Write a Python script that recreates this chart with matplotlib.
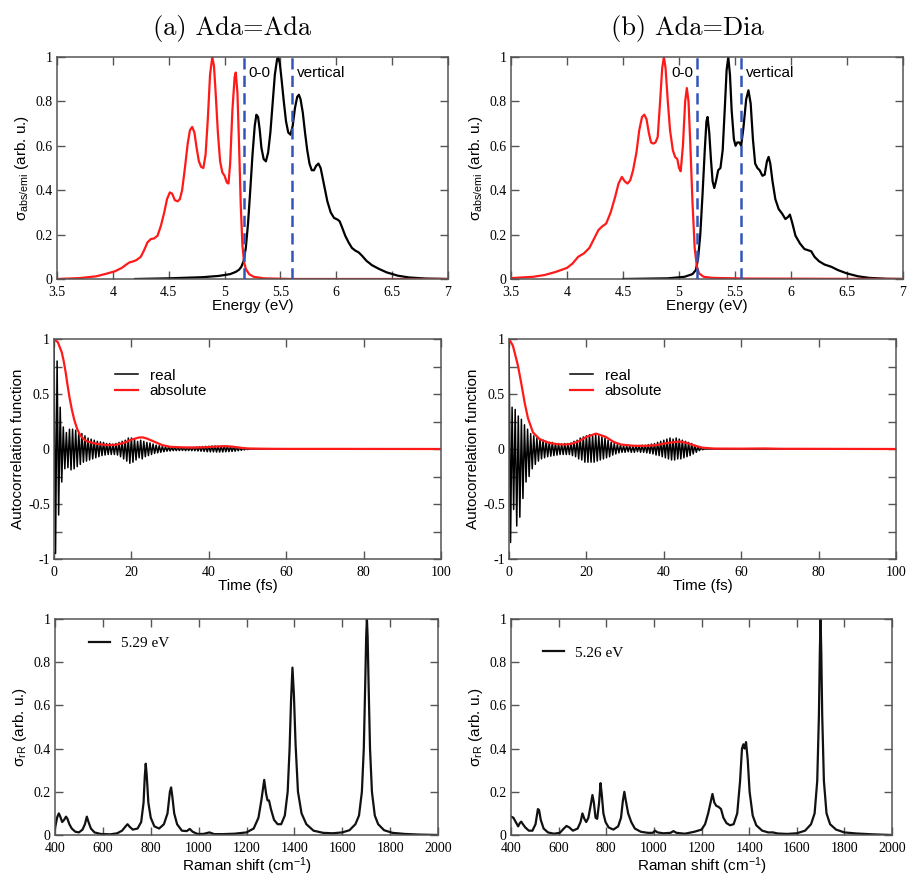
import numpy as np
import matplotlib
matplotlib.use("Agg")
import matplotlib.pyplot as plt
from matplotlib.ticker import FuncFormatter, MultipleLocator

# ---------------- data ----------------
# absorption (black) / emission (red) spectra, (energy eV, intensity)
abs_a = [(4.2, 0), (4.5, 0.003), (4.8, 0.008), (4.95, 0.014), (5.05, 0.022), (5.1, 0.032),
         (5.13, 0.042), (5.15, 0.055), (5.17, 0.08), (5.19, 0.14), (5.21, 0.25), (5.23, 0.4),
         (5.25, 0.56), (5.27, 0.69), (5.285, 0.74), (5.30, 0.73), (5.315, 0.67), (5.33, 0.59),
         (5.35, 0.54), (5.37, 0.53), (5.39, 0.57), (5.41, 0.66), (5.43, 0.79), (5.45, 0.92),
         (5.47, 0.99), (5.48, 1.0), (5.495, 0.97), (5.51, 0.9), (5.53, 0.8), (5.55, 0.71),
         (5.57, 0.66), (5.59, 0.65), (5.61, 0.69), (5.63, 0.77), (5.65, 0.82), (5.665, 0.83),
         (5.68, 0.81), (5.70, 0.75), (5.72, 0.66), (5.74, 0.58), (5.76, 0.52), (5.78, 0.49),
         (5.80, 0.49), (5.82, 0.51), (5.84, 0.52), (5.86, 0.50), (5.88, 0.45), (5.90, 0.40),
         (5.92, 0.35), (5.95, 0.30), (5.98, 0.275), (6.01, 0.268), (6.03, 0.26), (6.05, 0.235),
         (6.08, 0.195), (6.11, 0.165), (6.14, 0.14), (6.17, 0.128), (6.2, 0.12), (6.23, 0.105),
         (6.27, 0.082), (6.32, 0.062), (6.38, 0.046), (6.45, 0.03), (6.55, 0.015), (6.65, 0.007),
         (6.8, 0.002), (7.0, 0.0)]
emi_a = [(3.5, 0), (3.7, 0.004), (3.85, 0.012), (3.95, 0.025), (4.02, 0.035), (4.08, 0.05),
         (4.12, 0.065), (4.15, 0.075), (4.18, 0.079), (4.21, 0.085), (4.25, 0.1), (4.28, 0.13),
         (4.31, 0.165), (4.34, 0.18), (4.37, 0.183), (4.40, 0.195), (4.43, 0.24), (4.46, 0.3),
         (4.485, 0.36), (4.51, 0.39), (4.53, 0.385), (4.555, 0.355), (4.58, 0.35), (4.60, 0.36),
         (4.62, 0.40), (4.645, 0.5), (4.67, 0.61), (4.69, 0.67), (4.71, 0.685), (4.73, 0.66),
         (4.75, 0.59), (4.77, 0.53), (4.79, 0.505), (4.81, 0.50), (4.83, 0.56), (4.85, 0.72),
         (4.87, 0.92), (4.89, 1.0), (4.905, 0.96), (4.92, 0.84), (4.94, 0.66), (4.96, 0.53),
         (4.98, 0.48), (5.00, 0.465), (5.02, 0.435), (5.035, 0.43), (5.05, 0.52), (5.07, 0.76),
         (5.09, 0.91), (5.10, 0.93), (5.115, 0.84), (5.13, 0.6), (5.145, 0.33), (5.16, 0.15),
         (5.175, 0.075), (5.19, 0.045), (5.22, 0.022), (5.26, 0.01), (5.35, 0.003), (5.6, 0),
         (7.0, 0)]
abs_b = [(4.5, 0), (4.9, 0.003), (5.05, 0.01), (5.12, 0.022), (5.15, 0.04), (5.17, 0.09),
         (5.19, 0.2), (5.21, 0.38), (5.23, 0.58), (5.245, 0.71), (5.255, 0.73), (5.27, 0.66),
         (5.285, 0.54), (5.30, 0.44), (5.315, 0.41), (5.33, 0.44), (5.35, 0.49), (5.37, 0.50),
         (5.39, 0.58), (5.41, 0.78), (5.425, 0.94), (5.44, 1.0), (5.455, 0.92), (5.47, 0.76),
         (5.49, 0.63), (5.505, 0.60), (5.52, 0.615), (5.54, 0.615), (5.555, 0.60), (5.575, 0.68),
         (5.60, 0.81), (5.62, 0.85), (5.64, 0.79), (5.66, 0.63), (5.68, 0.52), (5.70, 0.50),
         (5.72, 0.49), (5.745, 0.465), (5.765, 0.47), (5.785, 0.53), (5.80, 0.55), (5.815, 0.52),
         (5.835, 0.44), (5.86, 0.36), (5.89, 0.315), (5.92, 0.295), (5.95, 0.27), (5.975, 0.28),
         (5.99, 0.29), (6.01, 0.255), (6.04, 0.195), (6.08, 0.16), (6.12, 0.135), (6.15, 0.13),
         (6.18, 0.125), (6.21, 0.1), (6.25, 0.08), (6.3, 0.065), (6.36, 0.055), (6.42, 0.04),
         (6.5, 0.025), (6.6, 0.012), (6.7, 0.005), (6.85, 0.001), (7.0, 0)]
emi_b = [(3.5, 0.004), (3.7, 0.01), (3.8, 0.018), (3.9, 0.032), (4.0, 0.05), (4.05, 0.07),
         (4.1, 0.1), (4.15, 0.115), (4.2, 0.14), (4.25, 0.19), (4.28, 0.22), (4.31, 0.235),
         (4.35, 0.25), (4.39, 0.3), (4.43, 0.37), (4.46, 0.43), (4.49, 0.46), (4.515, 0.44),
         (4.54, 0.43), (4.565, 0.445), (4.59, 0.49), (4.62, 0.57), (4.645, 0.67), (4.67, 0.73),
         (4.69, 0.74), (4.71, 0.72), (4.73, 0.66), (4.75, 0.615), (4.77, 0.61), (4.79, 0.615),
         (4.81, 0.64), (4.83, 0.79), (4.85, 0.95), (4.865, 1.0), (4.88, 0.95), (4.90, 0.8),
         (4.92, 0.67), (4.945, 0.58), (4.965, 0.55), (4.985, 0.54), (5.00, 0.5), (5.015, 0.485),
         (5.035, 0.6), (5.055, 0.8), (5.07, 0.86), (5.085, 0.8), (5.10, 0.62), (5.12, 0.35),
         (5.14, 0.14), (5.16, 0.055), (5.18, 0.025), (5.22, 0.01), (5.3, 0.005), (5.6, 0.002),
         (7.0, 0)]
e00 = [5.17, 5.16]        # 0-0 energies
evert = [5.60, 5.55]      # vertical energies

# autocorrelation: |A(t)| (red) and Re A(t) extrema every 0.4 fs (black)
abs_corr_a = [(0, 1.0), (1, 0.97), (2, 0.88), (2.5, 0.8), (3, 0.7), (3.5, 0.58), (4, 0.47),
              (4.6, 0.36), (5.2, 0.27), (6, 0.18), (6.7, 0.13), (7.5, 0.095), (8.5, 0.07),
              (10, 0.055), (12, 0.042), (14, 0.036), (16, 0.038), (18, 0.055), (20, 0.085),
              (22, 0.105), (23, 0.105), (24, 0.095), (26, 0.065), (28, 0.035), (30, 0.02),
              (33, 0.015), (36, 0.013), (39, 0.016), (42, 0.022), (44, 0.026), (46, 0.022),
              (48, 0.012), (50, 0.005), (55, 0.002), (60, 0.001), (74, 0.001), (100, 0)]
abs_corr_b = [(0, 1.0), (1, 0.94), (2.3, 0.76), (3.2, 0.59), (4.05, 0.42), (4.9, 0.28),
              (6.2, 0.15), (7.9, 0.09), (10, 0.06), (12, 0.046), (14, 0.04), (16, 0.045),
              (18, 0.07), (20, 0.11), (22.5, 0.14), (25, 0.11), (27, 0.065), (29, 0.04),
              (32, 0.03), (35, 0.028), (38, 0.035), (41, 0.055), (44, 0.068), (46, 0.055),
              (48, 0.03), (50, 0.012), (53, 0.004), (60, 0.003), (66, 0.005), (70, 0.002), (100, 0)]
real_dt = 0.4
real_a = [1.00, -0.95, 0.80, -0.60, 0.38, -0.30, 0.20, -0.18, 0.15, -0.17,
          0.18, -0.19, 0.18, -0.18, 0.17, -0.16, 0.15, -0.14, 0.14, -0.12,
          0.12, -0.11, 0.10, -0.10, 0.09, -0.09, 0.08, -0.08, 0.07, -0.07,
          0.065, -0.06, 0.06, -0.055, 0.05, -0.05, 0.05, -0.05, 0.045, -0.05,
          0.05, -0.055, 0.06, -0.07, 0.07, -0.09, 0.08, -0.11, 0.10, -0.13,
          0.10, -0.12, 0.09, -0.10, 0.07, -0.08, 0.08, -0.09, 0.07, -0.07,
          0.06, -0.06, 0.055, -0.05, 0.045, -0.04, 0.035, -0.035, 0.03, -0.03,
          0.025, -0.025, 0.02, -0.02, 0.018, -0.018, 0.016, -0.015, 0.015, -0.015,
          0.014, -0.014, 0.015, -0.013, 0.014, -0.015, 0.013, -0.014, 0.015, -0.015,
          0.016, -0.016, 0.018, -0.018, 0.02, -0.02, 0.022, -0.022, 0.024, -0.025,
          0.025, -0.026, 0.027, -0.026, 0.028, -0.028, 0.027, -0.028, 0.026, -0.027,
          0.026, -0.025, 0.025, -0.024, 0.022, -0.022, 0.02, -0.02, 0.017, -0.016,
          0.013, -0.012, 0.009, -0.008, 0.006, -0.005, 0.0]
real_b = [1.00, -0.85, 0.38, -0.55, 0.36, -0.70, 0.30, -0.62, 0.27, -0.45,
          0.22, -0.30, 0.18, -0.25, 0.14, -0.18, 0.12, -0.14, 0.10, -0.11,
          0.09, -0.09, 0.08, -0.08, 0.07, -0.07, 0.06, -0.065, 0.06, -0.06,
          0.05, -0.055, 0.05, -0.05, 0.045, -0.05, 0.05, -0.05, 0.05, -0.05,
          0.055, -0.06, 0.07, -0.07, 0.08, -0.09, 0.10, -0.10, 0.11, -0.12,
          0.12, -0.12, 0.13, -0.12, 0.12, -0.12, 0.13, -0.11, 0.12, -0.10,
          0.11, -0.09, 0.10, -0.08, 0.08, -0.07, 0.06, -0.055, 0.05, -0.045,
          0.04, -0.035, 0.035, -0.03, 0.03, -0.03, 0.03, -0.025, 0.03, -0.03,
          0.025, -0.03, 0.03, -0.025, 0.03, -0.03, 0.035, -0.03, 0.035, -0.035,
          0.04, -0.04, 0.045, -0.045, 0.05, -0.055, 0.06, -0.06, 0.07, -0.07,
          0.08, -0.08, 0.09, -0.09, 0.10, -0.10, 0.09, -0.10, 0.10, -0.09,
          0.09, -0.09, 0.08, -0.08, 0.07, -0.07, 0.06, -0.06, 0.05, -0.045,
          0.035, -0.03, 0.02, -0.015, 0.01, -0.006, 0.0]
real_tail = [(52, 0.0), (100, 0.0)]

# resonance Raman spectra (cm-1, intensity)
raman_a = [(400, 0.03), (405, 0.06), (410, 0.085), (416, 0.10), (422, 0.085), (430, 0.06),
           (438, 0.07), (446, 0.085), (452, 0.075), (460, 0.05), (470, 0.03), (485, 0.015),
           (500, 0.012), (515, 0.025), (525, 0.05), (533, 0.085), (540, 0.06), (550, 0.03),
           (565, 0.012), (590, 0.005), (630, 0.003), (660, 0.008), (680, 0.02), (695, 0.04),
           (703, 0.05), (712, 0.038), (725, 0.025), (745, 0.03), (760, 0.06), (770, 0.15),
           (775, 0.27), (779, 0.33), (783, 0.28), (790, 0.15), (800, 0.08), (815, 0.04),
           (835, 0.03), (855, 0.05), (870, 0.1), (880, 0.2), (885, 0.22), (890, 0.18),
           (898, 0.1), (910, 0.05), (930, 0.02), (950, 0.018), (963, 0.028), (975, 0.015),
           (995, 0.005), (1020, 0.005), (1045, 0.012), (1065, 0.004), (1100, 0.004),
           (1150, 0.006), (1200, 0.012), (1230, 0.03), (1250, 0.08), (1262, 0.16),
           (1274, 0.255), (1282, 0.19), (1288, 0.16), (1294, 0.16), (1302, 0.12),
           (1315, 0.07), (1330, 0.05), (1345, 0.05), (1360, 0.09), (1372, 0.2), (1380, 0.4),
           (1386, 0.62), (1392, 0.775), (1398, 0.65), (1405, 0.42), (1415, 0.2), (1430, 0.1),
           (1450, 0.05), (1480, 0.02), (1520, 0.01), (1560, 0.008), (1600, 0.012),
           (1630, 0.022), (1655, 0.05), (1670, 0.09), (1682, 0.2), (1690, 0.4), (1696, 0.7),
           (1700, 0.92), (1703, 1.0), (1706, 0.92), (1710, 0.7), (1716, 0.4), (1724, 0.2),
           (1736, 0.09), (1750, 0.05), (1775, 0.022), (1810, 0.01), (1860, 0.005),
           (1920, 0.002), (2000, 0.0)]
raman_b = [(400, 0.085), (410, 0.08), (420, 0.06), (430, 0.04), (437, 0.055), (443, 0.062),
           (450, 0.05), (460, 0.035), (475, 0.02), (490, 0.02), (503, 0.05), (513, 0.12),
           (518, 0.115), (525, 0.07), (537, 0.03), (555, 0.012), (580, 0.006), (605, 0.01),
           (622, 0.03), (633, 0.042), (645, 0.035), (660, 0.02), (680, 0.03), (692, 0.06),
           (700, 0.1), (708, 0.075), (716, 0.06), (725, 0.08), (735, 0.14), (742, 0.185),
           (748, 0.15), (755, 0.08), (762, 0.075), (770, 0.15), (776, 0.24), (781, 0.19),
           (788, 0.1), (797, 0.06), (810, 0.035), (830, 0.025), (850, 0.04), (862, 0.08),
           (870, 0.16), (876, 0.2), (882, 0.16), (892, 0.1), (905, 0.06), (920, 0.03),
           (945, 0.015), (975, 0.01), (995, 0.01), (1005, 0.02), (1015, 0.012), (1040, 0.008),
           (1070, 0.01), (1082, 0.018), (1095, 0.01), (1130, 0.006), (1170, 0.015),
           (1200, 0.025), (1215, 0.05), (1228, 0.1), (1240, 0.16), (1246, 0.19), (1254, 0.15),
           (1262, 0.135), (1272, 0.13), (1282, 0.12), (1292, 0.08), (1305, 0.055),
           (1320, 0.045), (1335, 0.05), (1350, 0.1), (1362, 0.25), (1370, 0.4), (1376, 0.42),
           (1381, 0.4), (1387, 0.43), (1394, 0.35), (1402, 0.2), (1415, 0.09), (1430, 0.045),
           (1455, 0.02), (1480, 0.012), (1500, 0.012), (1520, 0.007), (1560, 0.005),
           (1600, 0.008), (1635, 0.02), (1660, 0.05), (1675, 0.1), (1686, 0.25), (1693, 0.55),
           (1697, 0.85), (1700, 1.0), (1703, 0.85), (1707, 0.55), (1714, 0.25), (1725, 0.1),
           (1740, 0.05), (1765, 0.025), (1800, 0.012), (1850, 0.007), (1920, 0.003), (2000, 0.0)]
raman_labels = ["5.29 eV", "5.26 eV"]
titles = ["(a) Ada=Ada", "(b) Ada=Dia"]

# ---------------- style ----------------
plt.rcParams['font.family'] = ['Liberation Serif', 'DejaVu Serif']
plt.rcParams['mathtext.fontset'] = 'custom'
plt.rcParams['mathtext.rm'] = 'Liberation Sans'
plt.rcParams['mathtext.it'] = 'Liberation Sans:italic'
SANS = 'Liberation Sans'
FRAME = '#555555'
RED = '#ff1a1a'
BLUE = '#3355bb'
fmt = FuncFormatter(lambda v, p: '%g' % v)


def xy(pairs):
    a = np.array(pairs, dtype=float)
    return a[:, 0], a[:, 1]


def style(ax):
    for s in ax.spines.values():
        s.set_color(FRAME)
        s.set_linewidth(1.1)
    ax.tick_params(which='both', direction='in', top=True, right=True, length=6,
                   width=1.0, color=FRAME, labelsize=10, pad=3)
    ax.tick_params(axis='x', pad=5)
    ax.xaxis.set_major_formatter(fmt)
    ax.yaxis.set_major_formatter(fmt)


fig = plt.figure(figsize=(9.07, 8.75), dpi=100)
W, H = 907.0, 875.0


def add_axes(l, r, t, b):
    return fig.add_axes([l / W, 1 - b / H, (r - l) / W, (b - t) / H])


top = [add_axes(57, 448, 57, 279), add_axes(511, 903, 57, 279)]
mid = [add_axes(54, 441, 339, 559), add_axes(509, 896, 339, 559)]
bot = [add_axes(55, 438, 619, 835), add_axes(511, 892, 619, 835)]

# --- spectra ---
for i, (ab, em) in enumerate([(abs_a, emi_a), (abs_b, emi_b)]):
    ax = top[i]
    ax.plot(*xy(ab), color='black', lw=1.6)
    ax.plot(*xy(em), color=RED, lw=1.6)
    ax.axvline(e00[i], color=BLUE, lw=1.8, ls=(0, (4.5, 2.5)), zorder=5)
    ax.axvline(evert[i], color=BLUE, lw=1.8, ls=(0, (4.5, 2.5)), zorder=5)
    if i == 0:
        ax.text(e00[i] + 0.04, 0.93, "0-0", family=SANS, fontsize=11, va='center', ha='left')
    else:
        ax.text(e00[i] - 0.03, 0.93, "0-0", family=SANS, fontsize=11, va='center', ha='right')
    ax.text(evert[i] + 0.05, 0.93, "vertical", family=SANS, fontsize=11, va='center', ha='left')
    ax.set_xlim(3.5, 7)
    ax.set_ylim(0, 1)
    ax.xaxis.set_major_locator(MultipleLocator(0.5))
    ax.yaxis.set_major_locator(MultipleLocator(0.2))
    style(ax)
    ax.set_xlabel("Energy (eV)", family=SANS, fontsize=11, labelpad=0)
    ax.set_ylabel(r"σ$_{\mathrm{abs/emi}}$ (arb. u.)", family=SANS, fontsize=11, labelpad=3)

# --- autocorrelation ---
for i, (ac, re) in enumerate([(abs_corr_a, real_a), (abs_corr_b, real_b)]):
    ax = mid[i]
    t = np.arange(len(re)) * real_dt
    tt, tv = xy(real_tail)
    ax.plot(np.concatenate([t, tt]), np.concatenate([re, tv]), color='black', lw=1.1,
            label='real')
    ax.plot(*xy(ac), color=RED, lw=1.6, label='absolute')
    ax.set_xlim(0, 100)
    ax.set_ylim(-1, 1)
    ax.xaxis.set_major_locator(MultipleLocator(20))
    ax.yaxis.set_major_locator(MultipleLocator(0.5))
    ax.yaxis.set_minor_locator(MultipleLocator(0.25))
    style(ax)
    ax.set_xlabel("Time (fs)", family=SANS, fontsize=11, labelpad=0)
    ax.set_ylabel("Autocorrelation function", family=SANS, fontsize=11, labelpad=2)
    ax.legend(loc='upper left', bbox_to_anchor=(0.158, 0.865), frameon=False,
              borderpad=0, borderaxespad=0, handlelength=1.5, handletextpad=0.75,
              labelspacing=0.1, prop={'family': SANS, 'size': 11})

# --- resonance Raman ---
for i, rr in enumerate([raman_a, raman_b]):
    ax = bot[i]
    ax.plot(*xy(rr), color='#111111', lw=1.6, label=raman_labels[i])
    ax.set_xlim(400, 2000)
    ax.set_ylim(0, 1)
    ax.xaxis.set_major_locator(MultipleLocator(200))
    ax.yaxis.set_major_locator(MultipleLocator(0.2))
    style(ax)
    ax.set_xlabel(r"Raman shift (cm$^{-1}$)", family=SANS, fontsize=11, labelpad=0)
    ax.set_ylabel(r"σ$_{\mathrm{rR}}$ (arb. u.)", family=SANS, fontsize=11, labelpad=3)
    ax.legend(loc='upper left', bbox_to_anchor=((0.089, 0.92), (0.084, 0.875))[i],
              frameon=False, borderpad=0, borderaxespad=0, handlelength=1.4,
              handletextpad=0.7, prop={'family': 'Liberation Serif', 'size': 11})

fig.text(232 / W, 1 - 28 / H, titles[0], ha='center', va='center', fontsize=19,
         family='cmr10')
fig.text(687 / W, 1 - 28 / H, titles[1], ha='center', va='center', fontsize=19,
         family='cmr10')

fig.savefig("out.png", dpi=100)
